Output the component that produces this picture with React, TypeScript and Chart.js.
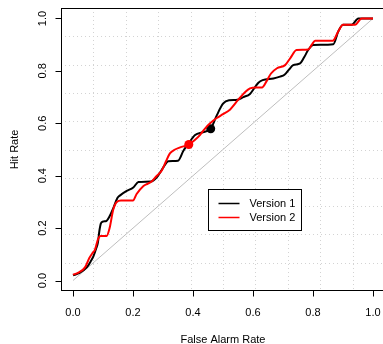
import React, { useEffect, useRef } from "react";
import { Chart, registerables } from "chart.js";

Chart.register(...registerables);

// ROC curves: false alarm rate (x) against hit rate (y)
const versionOneFalseAlarm = [
  0, 0.02, 0.046, 0.06, 0.068, 0.078, 0.083, 0.088, 0.093, 0.1, 0.112, 0.122, 0.134, 0.148,
  0.157, 0.179, 0.201, 0.218, 0.26, 0.28, 0.3, 0.318, 0.35, 0.368, 0.384, 0.407, 0.43, 0.446,
  0.459, 0.48, 0.5, 0.52, 0.548, 0.568, 0.59, 0.605, 0.618, 0.632, 0.668, 0.69, 0.705, 0.72,
  0.734, 0.757, 0.772, 0.784, 0.801, 0.868, 0.884, 0.9, 0.929, 0.951, 1.0,
];
const versionOneHit = [
  0.02, 0.028, 0.05, 0.075, 0.092, 0.125, 0.145, 0.19, 0.218, 0.225, 0.228, 0.245, 0.275, 0.315,
  0.325, 0.342, 0.355, 0.376, 0.378, 0.395, 0.43, 0.455, 0.457, 0.495, 0.521, 0.555, 0.565, 0.57,
  0.579, 0.632, 0.675, 0.688, 0.69, 0.7, 0.712, 0.735, 0.755, 0.765, 0.771, 0.778, 0.785, 0.805,
  0.822, 0.829, 0.855, 0.88, 0.899, 0.902, 0.95, 0.976, 0.976, 1.0, 1.0,
];
const versionTwoFalseAlarm = [
  0, 0.018, 0.04, 0.054, 0.065, 0.073, 0.084, 0.092, 0.112, 0.122, 0.134, 0.146, 0.16, 0.2,
  0.212, 0.234, 0.25, 0.262, 0.278, 0.296, 0.31, 0.323, 0.34, 0.357, 0.386, 0.405, 0.423, 0.44,
  0.457, 0.479, 0.5, 0.523, 0.551, 0.575, 0.59, 0.61, 0.63, 0.645, 0.66, 0.68, 0.707, 0.725,
  0.745, 0.784, 0.796, 0.807, 0.866, 0.884, 0.9, 0.94, 0.962, 1.0,
];
const versionTwoHit = [
  0.022, 0.03, 0.05, 0.085, 0.105, 0.117, 0.16, 0.17, 0.17, 0.2, 0.27, 0.3, 0.305, 0.305,
  0.33, 0.36, 0.37, 0.378, 0.398, 0.42, 0.455, 0.485, 0.5, 0.508, 0.519, 0.535, 0.555, 0.58,
  0.6, 0.62, 0.635, 0.652, 0.69, 0.72, 0.733, 0.737, 0.737, 0.76, 0.79, 0.81, 0.822, 0.85,
  0.88, 0.882, 0.9, 0.915, 0.915, 0.95, 0.976, 0.976, 1.0, 1.0,
];

// Operating point of each version (Version 1, Version 2)
const operatingFalseAlarm = [0.459, 0.386];
const operatingHit = [0.579, 0.519];

// Chance line
const chanceLine = [0, 1];

const axisTicks = [0, 0.2, 0.4, 0.6, 0.8, 1.0];
const seriesNames = ["Version 1", "Version 2"];
const seriesColors = ["#000000", "#FF0000"];
const xTitle = "False Alarm Rate";
const yTitle = "Hit Rate";

// Legend's top-left corner, in data coordinates
const legendAnchor = { x: 0.45, y: 0.35 };

const RANGE_MIN = -0.04;
const RANGE_MAX = 1.04;
const FONT = "11px 'Liberation Sans', Arial, Helvetica, sans-serif";

const toPoints = (xs: number[], ys: number[]) => xs.map((x, i) => ({ x, y: ys[i] }));

const basePlotPlugin = {
  id: "basePlot",
  beforeDatasetsDraw(chart: any) {
    const { ctx, chartArea, scales } = chart;
    const xs = scales.x;
    const ys = scales.y;
    ctx.save();
    ctx.strokeStyle = "#D3D3D3";
    ctx.lineWidth = 1;
    ctx.setLineDash([1, 3]);
    const step = (RANGE_MAX - RANGE_MIN) / 10;
    for (let k = 1; k < 10; k++) {
      const v = RANGE_MIN + k * step;
      const px = Math.round(xs.getPixelForValue(v)) + 0.5;
      ctx.beginPath();
      ctx.moveTo(px, chartArea.top);
      ctx.lineTo(px, chartArea.bottom);
      ctx.stroke();
      const py = Math.round(ys.getPixelForValue(v)) + 0.5;
      ctx.beginPath();
      ctx.moveTo(chartArea.left, py);
      ctx.lineTo(chartArea.right, py);
      ctx.stroke();
    }
    ctx.restore();
  },
  afterDatasetsDraw(chart: any) {
    const { ctx, chartArea, scales } = chart;
    const xs = scales.x;
    const ys = scales.y;
    ctx.save();
    ctx.setLineDash([]);
    ctx.strokeStyle = "#000000";
    ctx.lineWidth = 1;

    // plot frame
    const left = Math.round(chartArea.left) + 0.5;
    const top = Math.round(chartArea.top) + 0.5;
    const right = Math.round(chartArea.right) - 0.5;
    const bottom = Math.round(chartArea.bottom) - 0.5;
    ctx.strokeRect(left, top, right - left, bottom - top);

    // tick marks
    ctx.beginPath();
    axisTicks.forEach((t) => {
      const px = Math.round(xs.getPixelForValue(t)) + 0.5;
      ctx.moveTo(px, bottom);
      ctx.lineTo(px, bottom + 6);
      const py = Math.round(ys.getPixelForValue(t)) + 0.5;
      ctx.moveTo(left, py);
      ctx.lineTo(left - 6, py);
    });
    ctx.stroke();

    // tick labels
    ctx.fillStyle = "#000000";
    ctx.font = FONT;
    ctx.textAlign = "center";
    ctx.textBaseline = "alphabetic";
    axisTicks.forEach((t) => {
      ctx.fillText(t.toFixed(1), xs.getPixelForValue(t), bottom + 25.5);
    });
    axisTicks.forEach((t) => {
      ctx.save();
      ctx.translate(left - 16, ys.getPixelForValue(t));
      ctx.rotate(-Math.PI / 2);
      ctx.fillText(t.toFixed(1), 0, 0);
      ctx.restore();
    });

    // axis titles
    ctx.fillText(xTitle, (chartArea.left + chartArea.right) / 2, bottom + 52);
    ctx.save();
    ctx.translate(18, (chartArea.top + chartArea.bottom) / 2);
    ctx.rotate(-Math.PI / 2);
    ctx.fillText(yTitle, 0, 0);
    ctx.restore();

    // legend
    const lx = Math.round(xs.getPixelForValue(legendAnchor.x)) + 0.5;
    const ly = Math.round(ys.getPixelForValue(legendAnchor.y)) + 0.5;
    const lw = 93;
    const lh = 41;
    ctx.fillStyle = "#FFFFFF";
    ctx.fillRect(lx, ly, lw, lh);
    ctx.strokeStyle = "#000000";
    ctx.lineWidth = 1;
    ctx.strokeRect(lx, ly, lw, lh);
    ctx.textAlign = "left";
    ctx.textBaseline = "middle";
    seriesNames.forEach((name, i) => {
      const rowY = ly + 14 + i * 14;
      ctx.strokeStyle = seriesColors[i];
      ctx.lineWidth = 1.5;
      ctx.beginPath();
      ctx.moveTo(lx + 10, rowY);
      ctx.lineTo(lx + 31, rowY);
      ctx.stroke();
      ctx.fillStyle = "#000000";
      ctx.fillText(name, lx + 41, rowY + 0.5);
    });
    ctx.restore();
  },
};

export default function App() {
  const canvasRef = useRef<HTMLCanvasElement | null>(null);

  useEffect(() => {
    const canvas = canvasRef.current;
    if (!canvas) return;
    const chart = new Chart(canvas, {
      type: "line",
      data: {
        datasets: [
          {
            label: "Version 2 point",
            data: [{ x: operatingFalseAlarm[1], y: operatingHit[1] }],
            showLine: false,
            pointRadius: 4.5,
            pointBackgroundColor: seriesColors[1],
            pointBorderColor: seriesColors[1],
            pointBorderWidth: 0,
            order: 0,
          },
          {
            label: seriesNames[1],
            data: toPoints(versionTwoFalseAlarm, versionTwoHit),
            borderColor: seriesColors[1],
            borderWidth: 2,
            pointRadius: 0,
            cubicInterpolationMode: "monotone",
            fill: false,
            order: 1,
          },
          {
            label: "Version 1 point",
            data: [{ x: operatingFalseAlarm[0], y: operatingHit[0] }],
            showLine: false,
            pointRadius: 4.5,
            pointBackgroundColor: seriesColors[0],
            pointBorderColor: seriesColors[0],
            pointBorderWidth: 0,
            order: 2,
          },
          {
            label: seriesNames[0],
            data: toPoints(versionOneFalseAlarm, versionOneHit),
            borderColor: seriesColors[0],
            borderWidth: 2,
            pointRadius: 0,
            cubicInterpolationMode: "monotone",
            fill: false,
            order: 3,
          },
          {
            label: "Chance",
            data: toPoints(chanceLine, chanceLine),
            borderColor: "#BEBEBE",
            borderWidth: 1,
            pointRadius: 0,
            fill: false,
            order: 4,
          },
        ],
      },
      options: {
        animation: false,
        responsive: false,
        devicePixelRatio: 1,
        events: [],
        layout: { padding: { left: 61, top: 8, right: 15, bottom: 53 } },
        scales: {
          x: { type: "linear", min: RANGE_MIN, max: RANGE_MAX, display: false },
          y: { type: "linear", min: RANGE_MIN, max: RANGE_MAX, display: false },
        },
        plugins: {
          legend: { display: false },
          tooltip: { enabled: false },
        },
      },
      plugins: [basePlotPlugin],
    });
    return () => chart.destroy();
  }, []);

  return (
    <div
      style={{
        position: "fixed",
        left: 0,
        top: 0,
        width: 383,
        height: 344,
        overflow: "hidden",
        background: "#FFFFFF",
      }}
    >
      <canvas ref={canvasRef} width={400} height={344} style={{ display: "block", width: 400, height: 344 }} />
    </div>
  );
}
